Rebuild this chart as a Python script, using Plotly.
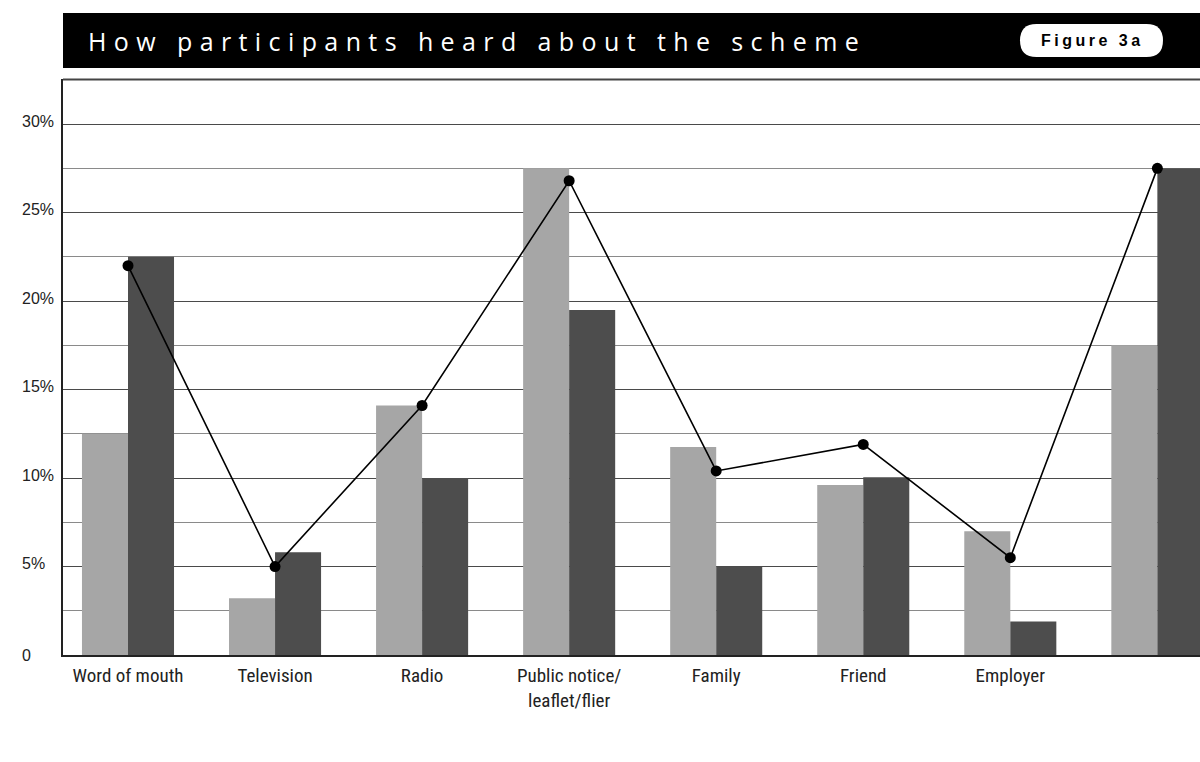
import plotly.graph_objects as go

categories = ["Word of mouth", "Television", "Radio", "Public notice/<br>leaflet/flier",
              "Family", "Friend", "Employer", " "]
series_light = [12.5, 3.2, 14.1, 27.5, 11.75, 9.6, 7.0, 17.5]
series_dark = [22.5, 5.8, 10.0, 19.5, 5.0, 10.05, 1.9, 27.5]
series_line = [22.0, 5.0, 14.1, 26.8, 10.4, 11.9, 5.5, 27.5]
y_tickvals = [0, 5, 10, 15, 20, 25, 30]
y_ticktext = ["0", "5%", "10%", "15%", "20%", "25%", "30%"]
title_text = "How participants heard about the scheme"
badge_text = "Figure 3a"

W, H = 1200, 762
L, R, T, B = 63, 0, 79, 107
PW, PH = W - L - R, H - T - B


def px(x):
    return (x - L) / PW


def py(y):
    return (H - B - y) / PH


fig = go.Figure()
fig.add_trace(go.Bar(x=categories, y=series_light, marker=dict(color="#a6a6a6", line=dict(width=0)),
                     name="A"))
fig.add_trace(go.Bar(x=categories, y=series_dark, marker=dict(color="#4d4d4d", line=dict(width=0)),
                     name="B"))
fig.add_trace(go.Scatter(x=categories, y=series_line, mode="lines+markers",
                         line=dict(color="#000000", width=1.6),
                         marker=dict(color="#000000", size=11), name="C"))

shapes = []
# header bar
shapes.append(dict(type="rect", xref="paper", yref="paper", x0=px(63), x1=px(1200),
                   y0=py(68), y1=py(13), fillcolor="#000000", line=dict(width=0), layer="above"))
# badge pill
bx0, bx1, by0, by1 = 1020, 1163, 24, 57
r = (by1 - by0) / 2
path = (f"M {px(bx0 + r)} {py(by0)} L {px(bx1 - r)} {py(by0)} "
        f"Q {px(bx1)} {py(by0)} {px(bx1)} {py(by0 + r)} "
        f"Q {px(bx1)} {py(by1)} {px(bx1 - r)} {py(by1)} "
        f"L {px(bx0 + r)} {py(by1)} "
        f"Q {px(bx0)} {py(by1)} {px(bx0)} {py(by0 + r)} "
        f"Q {px(bx0)} {py(by0)} {px(bx0 + r)} {py(by0)} Z")
shapes.append(dict(type="path", xref="paper", yref="paper", path=path, fillcolor="#ffffff",
                   line=dict(width=0), layer="above"))
# top border
shapes.append(dict(type="line", xref="paper", yref="paper", x0=px(63), x1=px(1200),
                   y0=py(79.5), y1=py(79.5), line=dict(color="#444444", width=2), layer="above"))

annotations = []
annotations.append(dict(xref="paper", yref="paper", x=px(86), y=py(41), xanchor="left", yanchor="middle",
                        text=f'<span style="letter-spacing:7.4px">{title_text}</span>', showarrow=False,
                        font=dict(family="Open Sans, Noto Sans, sans-serif", size=25, color="#ffffff")))
annotations.append(dict(xref="paper", yref="paper", x=px((bx0 + bx1) / 2 + 1), y=py(40.5), xanchor="center",
                        yanchor="middle",
                        text=f'<span style="letter-spacing:3.5px"><b>{badge_text}</b></span>', showarrow=False,
                        font=dict(family="Liberation Sans, Arial, sans-serif", size=16, color="#000000")))
for v, t in zip(y_tickvals, y_ticktext):
    annotations.append(dict(xref="paper", yref="y", x=px(20), y=v, xanchor="left", yanchor="middle",
                            text=t, showarrow=False, yshift=3 if v else 0,
                            font=dict(family="Liberation Sans, Arial, sans-serif", size=16, color="#222222")))

fig.update_layout(
    width=W, height=H,
    margin=dict(l=L, r=R, t=T, b=B, pad=0),
    paper_bgcolor="#ffffff", plot_bgcolor="#ffffff",
    barmode="group", bargap=0.374, bargroupgap=0,
    showlegend=False,
    shapes=shapes, annotations=annotations,
    xaxis=dict(range=[-0.442, 7.29], showgrid=False, showline=True, linecolor="#222222", linewidth=2,
               ticks="", tickfont=dict(family="Liberation Sans Narrow, Roboto Condensed, DejaVu Sans Condensed, sans-serif",
                                       size=19, color="#222222"),
               ticklabelstandoff=2, fixedrange=True),
    yaxis=dict(range=[0, 32.55], tickvals=y_tickvals, showticklabels=False, showgrid=True,
               gridcolor="#4a4a4a", gridwidth=1, zeroline=False,
               minor=dict(dtick=2.5, tick0=0, showgrid=True, gridcolor="#8a8a8a", gridwidth=1),
               showline=True, linecolor="#222222", linewidth=2, ticks="", fixedrange=True),
)

fig.write_html("out.html")
